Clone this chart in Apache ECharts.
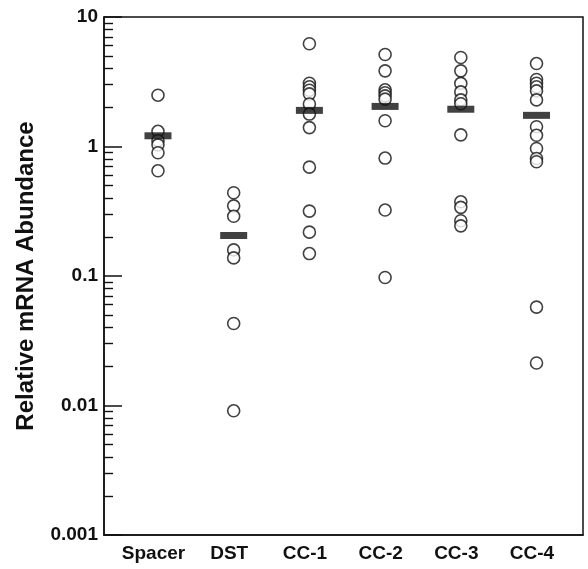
<!DOCTYPE html>
<html>
<head>
    <meta charset="utf-8">
    <title>Relative mRNA Abundance</title>
    <script src="https://cdn.jsdelivr.net/npm/echarts@6/dist/echarts.min.js"></script>
    <style>
        html, body { margin: 0; padding: 0; background: #fff; }
        #main { width: 588px; height: 569px; }
    </style>
</head>
<body>
<div id="main"></div>
<script>
    // groups on the x axis
    var categories = ['Spacer', 'DST', 'CC-1', 'CC-2', 'CC-3', 'CC-4'];

    // individual samples per group
    var spacerVals = [2.49, 1.31, 1.11, 1.03, 0.894, 0.649];
    var dstVals = [0.439, 0.348, 0.289, 0.159, 0.138, 0.043, 0.0091];
    var cc1Vals = [6.21, 3.08, 2.89, 2.72, 2.55, 2.13, 1.78, 1.40, 0.693, 0.317, 0.218, 0.149];
    var cc2Vals = [5.13, 3.84, 2.74, 2.60, 2.46, 2.32, 1.58, 0.814, 0.323, 0.0974];
    var cc3Vals = [4.87, 3.84, 3.07, 2.64, 2.29, 2.14, 1.23, 0.374, 0.339, 0.267, 0.244];
    var cc4Vals = [4.37, 3.29, 3.08, 2.89, 2.69, 2.29, 1.42, 1.22, 0.965, 0.808, 0.762, 0.0575, 0.0213];

    // the thick bar of each group
    var groupMeans = [1.21, 0.2055, 1.90, 2.04, 1.94, 1.74];

    var yMajor = [0.001, 0.01, 0.1, 1, 10];
    var yLabels = ['0.001', '0.01', '0.1', '1', '10'];
    var minorSteps = [2, 3, 4, 5, 6, 7, 8, 9];

    var groups = [spacerVals, dstVals, cc1Vals, cc2Vals, cc3Vals, cc4Vals];
    var points = [];
    groups.forEach(function (vals, i) {
        vals.forEach(function (v) { points.push([i + 1, v]); });
    });
    var bars = groupMeans.map(function (v, i) { return [i + 1, v]; });

    var yMinor = [];
    yMajor.slice(0, -1).forEach(function (d) {
        minorSteps.forEach(function (m) { yMinor.push(+(d * m).toPrecision(3)); });
    });

    var font = '"Liberation Sans", Arial, sans-serif';
    var ink = '#111';

    var myChart = echarts.init(document.getElementById('main'));
    myChart.setOption({
        animation: false,
        backgroundColor: '#fff',
        grid: {
            left: 104, right: 5, top: 17, bottom: 34,
            show: true, borderColor: ink, borderWidth: 1.5, backgroundColor: 'transparent'
        },
        xAxis: {
            type: 'value',
            min: 0.287,
            max: 6.614,
            axisLine: { show: true, lineStyle: { color: ink, width: 1.5 } },
            axisTick: { show: false },
            splitLine: { show: false },
            axisLabel: {
                customValues: [1, 2, 3, 4, 5, 6],
                formatter: function (v) { return categories[Math.round(v) - 1] || ''; },
                color: ink, fontFamily: font, fontWeight: 'bold', fontSize: 19, margin: 9,
                padding: [0, 9, 0, 0]
            }
        },
        yAxis: [
            {
                type: 'log',
                logBase: 10,
                min: 0.001,
                max: 10,
                name: 'Relative mRNA Abundance',
                nameLocation: 'middle',
                nameGap: 66,
                nameTextStyle: { color: ink, fontFamily: font, fontWeight: 'bold', fontSize: 24 },
                axisLine: { show: true, lineStyle: { color: ink, width: 1.5 } },
                axisTick: {
                    show: true, inside: true, length: 18,
                    customValues: yMajor,
                    lineStyle: { color: ink, width: 1.5 }
                },
                axisLabel: {
                    customValues: yMajor,
                    formatter: function (v) {
                        var k = yMajor.findIndex(function (m) { return Math.abs(m - v) / m < 1e-6; });
                        return k >= 0 ? yLabels[k] : '';
                    },
                    color: ink, fontFamily: font, fontWeight: 'bold', fontSize: 19, margin: 6
                },
                splitLine: { show: false }
            },
            {
                type: 'log',
                logBase: 10,
                min: 0.001,
                max: 10,
                position: 'left',
                axisLine: { show: false },
                axisTick: {
                    show: true, inside: true, length: 9,
                    customValues: yMinor,
                    lineStyle: { color: ink, width: 1.4 }
                },
                axisLabel: { show: false },
                splitLine: { show: false }
            }
        ],
        series: [
            {
                name: 'samples',
                type: 'scatter',
                data: points,
                symbol: 'circle',
                symbolSize: 12,
                itemStyle: { color: '#fff', borderColor: ink, borderWidth: 1.6 },
                z: 2
            },
            {
                name: 'mean',
                type: 'scatter',
                data: bars,
                symbol: 'rect',
                symbolSize: [27, 7],
                itemStyle: { color: ink },
                z: 3
            }
        ]
    });
</script>
</body>
</html>
